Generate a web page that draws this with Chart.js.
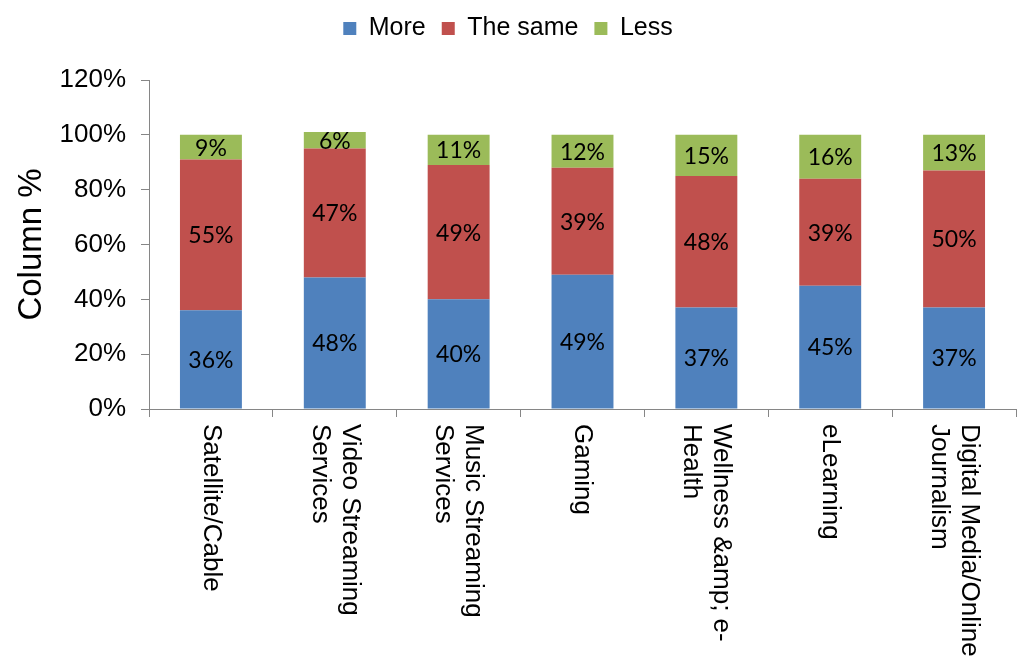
<!DOCTYPE html>
<html><head><meta charset="utf-8">
<script src="https://cdn.jsdelivr.net/npm/chart.js@4"></script>
<style>html,body{margin:0;padding:0;background:#fff}#wrap{width:1021px;height:656px}</style>
</head><body><div id="wrap"><canvas id="c" width="1021" height="656"></canvas></div>
<script>
const categories = [["Satellite/Cable"],["Video Streaming","Services"],["Music Streaming","Services"],["Gaming"],["Wellness &amp; e-","Health"],["eLearning"],["Digital Media/Online","Journalism"]];
const seriesNames = ["More","The same","Less"];
const moreValues = [36,48,40,49,37,45,37];
const sameValues = [55,47,49,39,48,39,50];
const lessValues = [9,6,11,12,15,16,13];
const yTickMin = 0, yTickMax = 120, yTickStep = 20;
const colors = ["#4F81BD","#C0504D","#9BBB59"];
const AX = '#868686';
const FONT = '"Liberation Sans", Arial, sans-serif';

const legendGap = {
  id:'legendGap',
  afterInit(chart){
    const lg = chart.legend; if(!lg) return;
    const f = lg.fit.bind(lg);
    lg.fit = function(){ f(); this.height += 29; };
  }
};
const segLabels = {
  id:'segLabels',
  afterDatasetsDraw(chart){
    const ctx = chart.ctx; ctx.save();
    ctx.font = '23px Lato, "Noto Sans", sans-serif'; ctx.fillStyle = '#000';
    ctx.textAlign = 'center'; ctx.textBaseline = 'middle';
    chart.data.datasets.forEach((ds,i)=>{
      chart.getDatasetMeta(i).data.forEach((bar,j)=>{
        const p = bar.getProps(['x','y','base'], true);
        ctx.fillText(ds.data[j] + '%', p.x, (p.y + p.base)/2 + 1);
      });
    });
    ctx.restore();
  }
};
const xLabels = {
  id:'xLabels',
  afterDraw(chart){
    const sc = chart.scales.x, ctx = chart.ctx; ctx.save();
    ctx.font = '26px ' + FONT; ctx.fillStyle = '#000';
    ctx.textAlign = 'left'; ctx.textBaseline = 'middle';
    categories.forEach((lines,i)=>{
      const x = sc.getPixelForTick(i);
      ctx.save(); ctx.translate(x, sc.top + 15); ctx.rotate(Math.PI/2);
      lines.forEach((t,k)=>ctx.fillText(t, 0, (k - (lines.length-1)/2) * 30));
      ctx.restore();
    });
    ctx.restore();
  }
};

new Chart(document.getElementById('c'), {
  type:'bar',
  data:{
    labels: categories.map(l=>l.join(' ')),
    datasets:[
      {label:seriesNames[0], data:moreValues, backgroundColor:colors[0]},
      {label:seriesNames[1], data:sameValues, backgroundColor:colors[1]},
      {label:seriesNames[2], data:lessValues, backgroundColor:colors[2]}
    ]
  },
  options:{
    responsive:false, devicePixelRatio:1, animation:false,
    layout:{padding:{top:0,right:5,left:0,bottom:0}},
    datasets:{bar:{barPercentage:0.5, categoryPercentage:1}},
    plugins:{
      legend:{position:'top', labels:{boxWidth:13, boxHeight:13, padding:16, color:'#000', font:{family:FONT, size:25}}},
      tooltip:{enabled:false}
    },
    scales:{
      x:{stacked:true,
        grid:{drawOnChartArea:false, drawTicks:true, tickLength:8, color:AX, offset:true},
        border:{color:AX, width:1},
        ticks:{display:false},
        afterFit(s){ s.height = 247; }
      },
      y:{stacked:true, min:yTickMin, max:yTickMax,
        grid:{drawOnChartArea:false, drawTicks:true, tickLength:8, color:AX},
        border:{color:AX, width:1},
        ticks:{stepSize:yTickStep, padding:15, color:'#000', font:{family:FONT, size:26}, callback:v=>v+'%'},
        title:{display:true, text:'Column %', color:'#000', font:{family:FONT, size:33}, padding:{top:12,bottom:0}},
        afterFit(s){ s.width = 149; }
      }
    }
  },
  plugins:[legendGap, segLabels, xLabels]
});
</script></body></html>
